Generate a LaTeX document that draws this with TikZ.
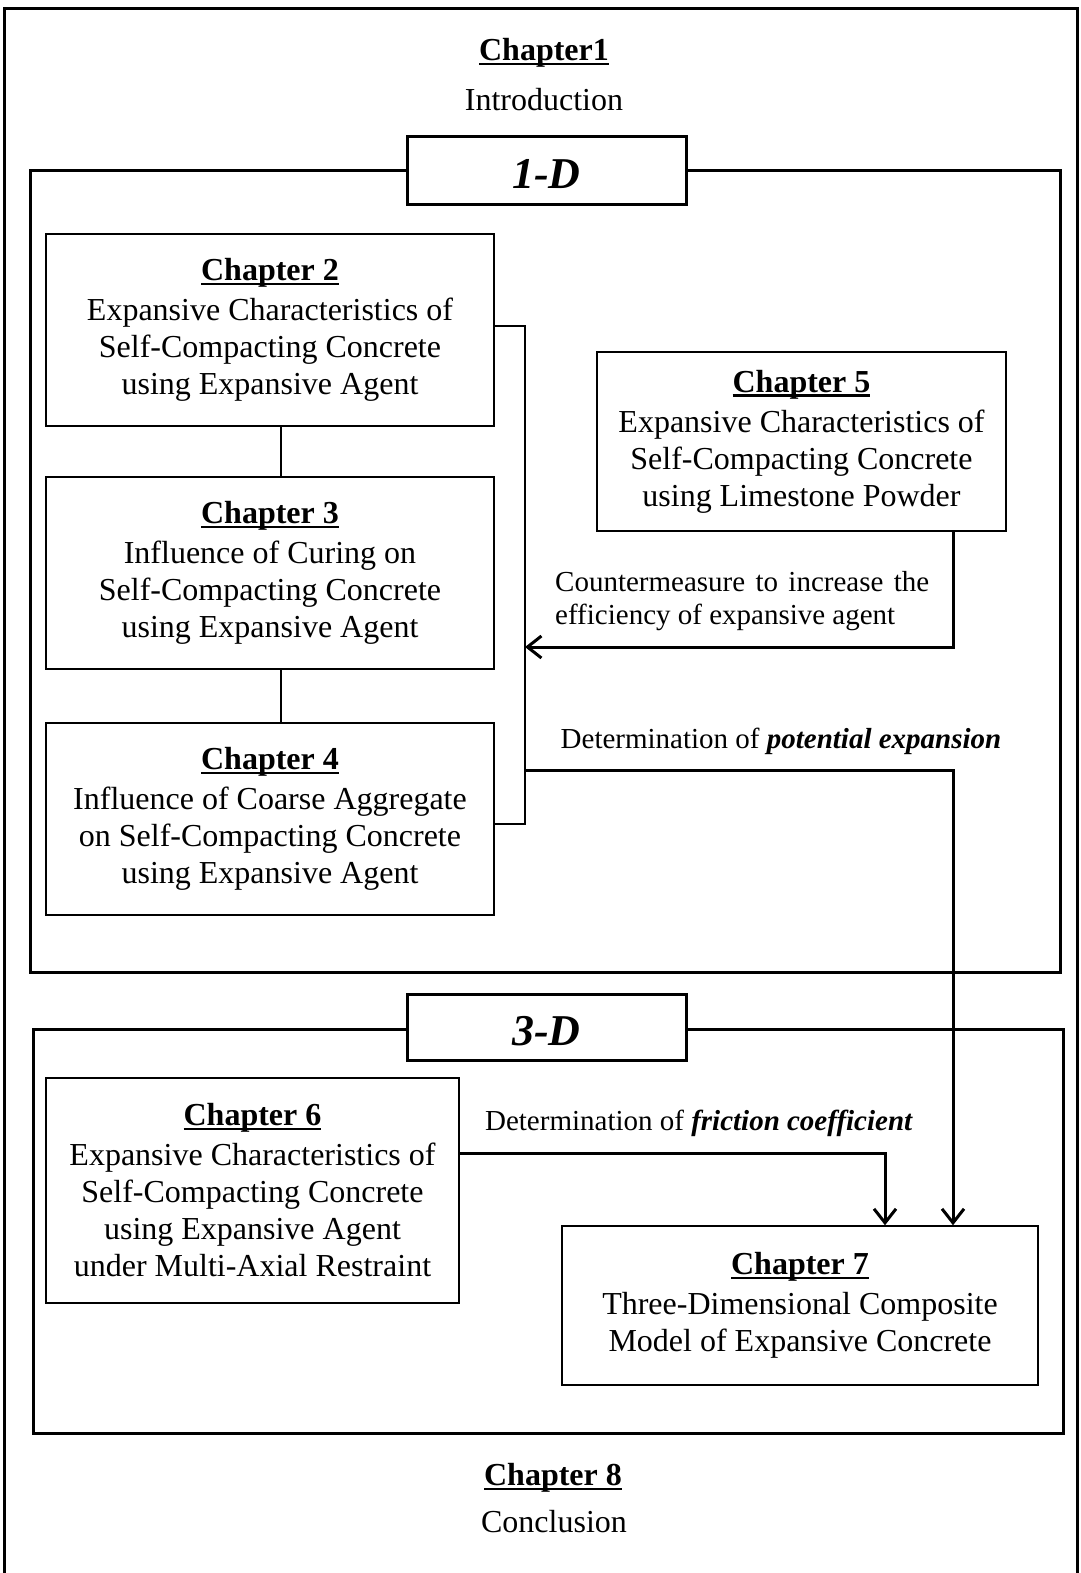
\documentclass[tikz,border=0pt]{standalone}
\usepackage{fontspec}
\setmainfont{Liberation Serif}
\usetikzlibrary{arrows.meta}
\newsavebox\hdbox
\newcommand\hdul[1]{\sbox\hdbox{\textbf{#1}}\leavevmode\rlap{\rule[-4.5pt]{\wd\hdbox}{2.6pt}}\usebox\hdbox}
\begin{document}
\begin{tikzpicture}[x=1pt,y=-1pt,
  chbox/.style={draw,line width=1.5pt,inner sep=0pt,align=center,
    font={\fontsize{32}{37}\selectfont}},
  dimbox/.style={draw,line width=3pt,fill=white,inner sep=0pt},
  dimtext/.style={inner sep=0pt,font={\fontsize{44}{50}\selectfont\bfseries\itshape}},
  frame/.style={line width=3pt},
  thinline/.style={line width=1.5pt},
  arrline/.style={line width=3pt,-{Straight Barb[length=14pt,width=22pt,line width=3pt]}},
  plain/.style={inner sep=0pt,font={\fontsize{32}{37}\selectfont}},
  lbl/.style={inner sep=0pt,font={\fontsize{29}{33}\selectfont}}
]
\useasboundingbox (0,0) rectangle (1080,1573);
% outer frame (open at bottom)
\draw[frame] (4,1573) -- (4,9) -- (1077,9) -- (1077,1573);
% top / bottom texts
\node[plain] (ch1) at (544,53) {\hdul{Chapter1}};
\node[plain] (intro) at (544,100) {Introduction};
\node[plain] (ch8) at (553,1478) {\hdul{Chapter 8}};
\node[plain] (concl) at (554,1522) {Conclusion};
% 1-D frame
\draw[frame] (30,171) rectangle (1060,972);
\node[dimbox,minimum width=279pt,minimum height=67pt] (d1) at (546.5,170.5) {};
\node[dimtext] (d1t) at ([yshift=-4pt]d1.center) {1-D};
% 3-D frame
\draw[frame] (33,1029) rectangle (1063,1433);
\node[dimbox,minimum width=279pt,minimum height=66pt] (d3) at (546.5,1027) {};
\node[dimtext] (d3t) at ([yshift=-4pt]d3.center) {3-D};
% chapter boxes
\node[chbox,minimum width=448pt,minimum height=192pt] (c2) at (270,330)
  {\hdul{Chapter 2}\\[3pt]Expansive Characteristics of\\Self-Compacting Concrete\\using Expansive Agent};
\node[chbox,minimum width=448pt,minimum height=192pt] (c3) at (270,573)
  {\hdul{Chapter 3}\\[3pt]Influence of Curing on\\Self-Compacting Concrete\\using Expansive Agent};
\node[chbox,minimum width=448pt,minimum height=192pt] (c4) at (270,819)
  {\hdul{Chapter 4}\\[3pt]Influence of Coarse Aggregate\\on Self-Compacting Concrete\\using Expansive Agent};
\node[chbox,minimum width=409pt,minimum height=179pt] (c5) at (801.5,441.5)
  {\hdul{Chapter 5}\\[3pt]Expansive Characteristics of\\Self-Compacting Concrete\\using Limestone Powder};
\node[chbox,minimum width=413pt,minimum height=225pt] (c6) at (252.5,1190.5)
  {\hdul{Chapter 6}\\[3pt]Expansive Characteristics of\\Self-Compacting Concrete\\using Expansive Agent\\under Multi-Axial Restraint};
\node[chbox,minimum width=476pt,minimum height=159pt] (c7) at (800,1305.5)
  {\hdul{Chapter 7}\\[3pt]Three-Dimensional Composite\\Model of Expansive Concrete};
% connectors between chapters 2-3-4
\draw[thinline] ([xshift=11pt]c2.south) -- ([xshift=11pt]c3.north);
\draw[thinline] ([xshift=11pt]c3.south) -- ([xshift=11pt]c4.north);
% bracket
\coordinate (b1) at (525,326);
\coordinate (b2) at (525,824);
\draw[thinline] (c2.east |- b1) -- (b1) -- (b2) -- (c4.east |- b2);
% chapter 5 arrow
\coordinate (k1) at (953,647);
\coordinate (k2) at (525,647);
\draw[arrline] (c5.south -| k1) -- (k1) -- (k2);
\node[lbl,anchor=west,align=left] (lab1) at (555,601)
  {\makebox[374pt][s]{Countermeasure to increase the}\\efficiency of expansive agent};
% potential expansion arrow
\coordinate (p1) at (526,770);
\coordinate (p2) at (953,770);
\draw[arrline] (p1) -- (p2) -- (c7.north -| p2);
\node[lbl] (lab2) at (781,741) {Determination of \textbf{\textit{potential expansion}}};
% friction arrow
\coordinate (f1) at (885,1153);
\draw[arrline] (c6.east |- f1) -- (f1) -- (c7.north -| f1);
\node[lbl] (lab3) at (699,1123) {Determination of \textbf{\textit{friction coefficient}}};
\end{tikzpicture}
\end{document}
